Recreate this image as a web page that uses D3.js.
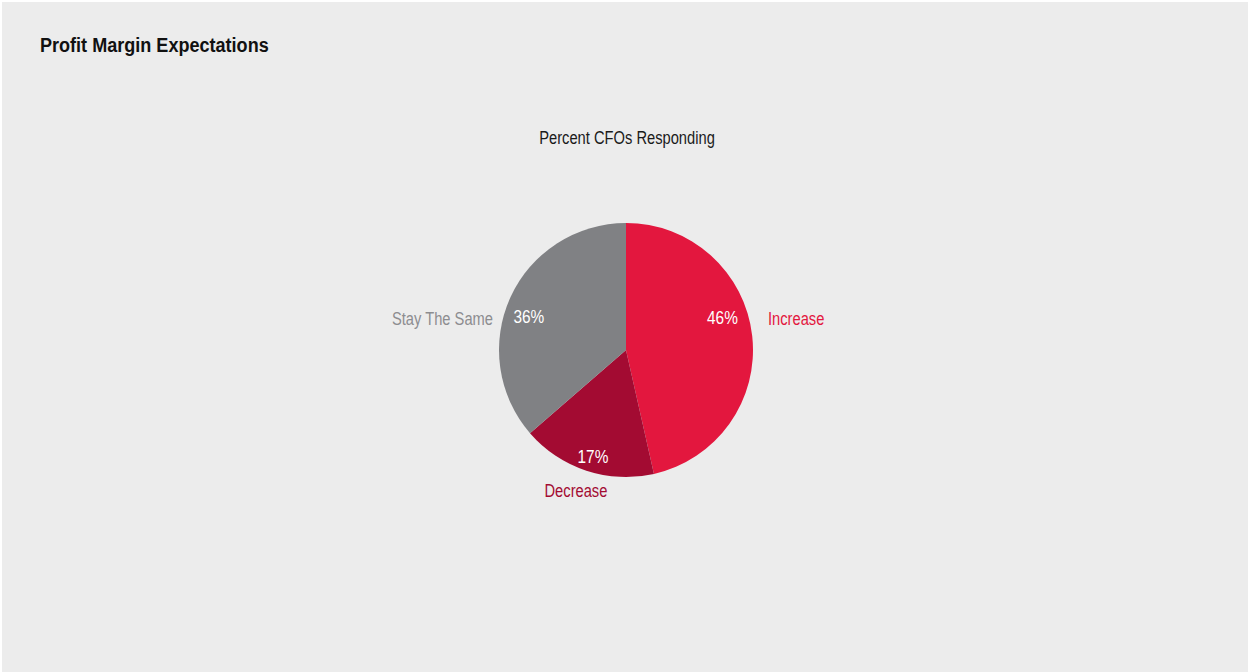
<!DOCTYPE html>
<html>
<head>
<meta charset="utf-8">
<script src="https://cdn.jsdelivr.net/npm/d3@7"></script>
<style>
  html, body { margin: 0; padding: 0; background: #ffffff; }
  svg { display: block; }
  text { font-family: "Liberation Sans Narrow", "Liberation Sans", Arial, sans-serif; }
</style>
</head>
<body>
<svg id="chart" width="1248" height="672"></svg>
<script>
// Survey answers: share of CFOs by expected profit-margin change
const categories = ["Increase", "Decrease", "Stay The Same"];
const values = [46, 17, 36];
const percentLabels = ["46%", "17%", "36%"];

const W = 1248, H = 672;
const svg = d3.select("#chart");

// Condensed text: horizontally squeezed Liberation Sans
const SQUEEZE = 0.84;
function label(parent, x, y, str, opts) {
  const grp = parent.append("g")
    .attr("transform", `translate(${x},${y}) scale(${opts.squeeze || SQUEEZE},1)`);
  const t = grp.append("text")
    .attr("x", 0).attr("y", 0)
    .attr("font-size", opts.size)
    .attr("fill", opts.fill)
    .attr("text-anchor", opts.anchor || "start")
    .text(str);
  if (opts.weight) t.attr("font-weight", opts.weight);
  if (opts.central) t.attr("dominant-baseline", "central");
  return t;
}

svg.append("rect")
  .attr("x", 2).attr("y", 2)
  .attr("width", W - 2).attr("height", H - 2)
  .attr("fill", "#ececec");

label(svg, 40, 52, "Profit Margin Expectations",
  { size: 21, weight: "bold", fill: "#111111", squeeze: 0.86 });

label(svg, 627, 144, "Percent CFOs Responding",
  { size: 17.5, fill: "#1a1a1a", anchor: "middle" });

const cx = 626, cy = 350, r = 127;

const color = d3.scaleOrdinal()
  .domain(categories)
  .range(["#e3173e", "#a30b32", "#808184"]);

const nameColor = d3.scaleOrdinal()
  .domain(categories)
  .range(["#e3173e", "#a30b32", "#8d8d90"]);

const pie = d3.pie().sort(null).value(d => d.value);
const arc = d3.arc().innerRadius(0).outerRadius(r);

const data = categories.map((c, i) => ({ name: c, value: values[i], label: percentLabels[i] }));
const arcs = pie(data);

const g = svg.append("g").attr("transform", `translate(${cx},${cy})`);

g.selectAll("path.slice")
  .data(arcs)
  .join("path")
  .attr("class", "slice")
  .attr("d", arc)
  .attr("fill", d => color(d.data.name));

// Label placement per slice: angle shift from slice middle, radius for value text,
// and where the category name sits relative to the pie
const labelLayout = {
  "Increase":      { shift: -0.22, rad: 102, name: "right" },
  "Decrease":      { shift: -0.015, rad: 111, name: "below" },
  "Stay The Same": { shift: -0.09, rad: 103, name: "left" }
};

const polar = (a, rad) => [rad * Math.sin(a), -rad * Math.cos(a)];

arcs.forEach(d => {
  const L = labelLayout[d.data.name];
  const mid = (d.startAngle + d.endAngle) / 2 + L.shift;
  const [px, py] = polar(mid, L.rad);

  label(g, px, py + 1, d.data.label,
    { size: 17.5, fill: "#ffffff", anchor: "middle", central: true, squeeze: 0.88 });

  const opts = { size: 17.5, fill: nameColor(d.data.name), central: true };
  if (L.name === "right") {
    label(g, r + 15, py + 2, d.data.name, { ...opts, anchor: "start" });
  } else if (L.name === "left") {
    label(g, -r - 6, py + 3, d.data.name, { ...opts, anchor: "end" });
  } else {
    label(g, px - 17, r + 14, d.data.name, { ...opts, anchor: "middle" });
  }
});
</script>
</body>
</html>
